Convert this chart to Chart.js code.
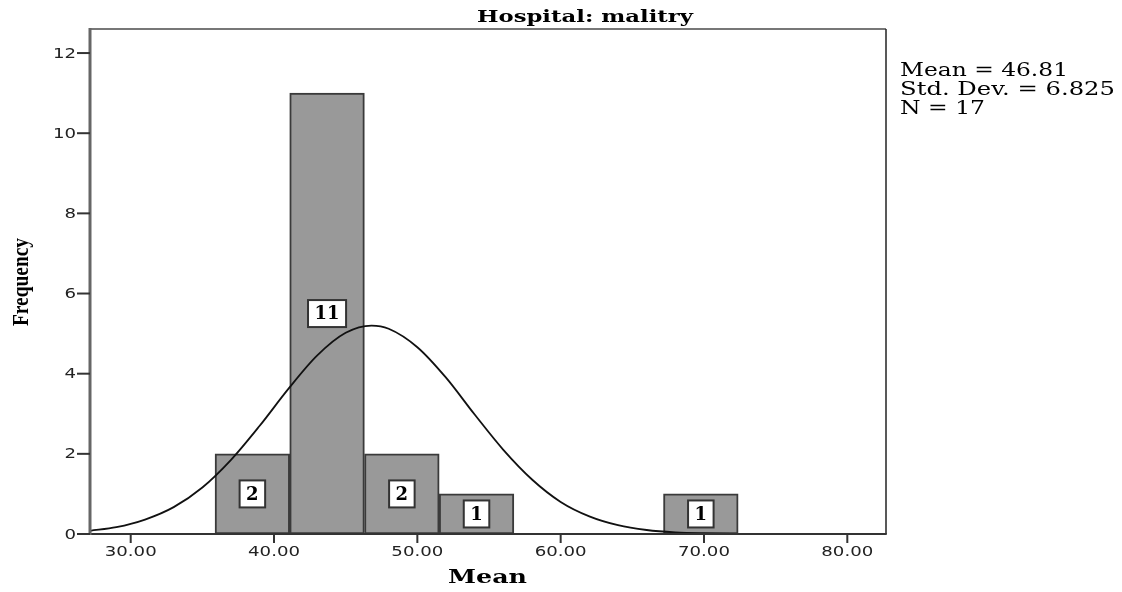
<!DOCTYPE html>
<html>
<head>
<meta charset="utf-8">
<script src="https://cdn.jsdelivr.net/npm/chart.js@4.4.0/dist/chart.umd.min.js"></script>
<style>
html,body{margin:0;padding:0;background:#fff;}
#wrap{width:1122px;height:592px;position:relative;}
</style>
</head>
<body>
<div id="wrap"><canvas id="c" width="1122" height="592"></canvas></div>
<script>
// ---- data ----
const binCenters = [38.49, 43.70, 48.92, 54.13, 69.78];
const frequencies = [2, 11, 2, 1, 1];
const curveX = [27.16, 29, 31, 33, 35, 37, 39, 41, 43, 45, 46.81, 48, 50, 52, 54, 56, 58, 60, 62, 64, 66, 68, 70, 72, 75, 82.7];
const curveY = [0.08, 0.17, 0.36, 0.67, 1.16, 1.85, 2.70, 3.62, 4.45, 5.02, 5.20, 5.12, 4.66, 3.90, 2.98, 2.10, 1.36, 0.80, 0.44, 0.22, 0.10, 0.04, 0.015, 0.005, 0, 0];
const xTicks = [30, 40, 50, 60, 70, 80];
const yTicks = [0, 2, 4, 6, 8, 10, 12];
const xTickLabels = ["30.00", "40.00", "50.00", "60.00", "70.00", "80.00"];
const yTickLabels = ["0", "2", "4", "6", "8", "10", "12"];
const titleText = "Hospital: malitry";
const xTitle = "Mean";
const yTitle = "Frequency";
const statsLines = ["Mean = 46.81", "Std. Dev. = 6.825", "N = 17"];

function fitText(ctx, text, x, y, targetW, align) {
  const w = ctx.measureText(text).width;
  const sx = targetW / w;
  ctx.save();
  ctx.translate(x, y);
  ctx.scale(sx, 1);
  ctx.textAlign = align || 'left';
  ctx.fillText(text, 0, 0);
  ctx.restore();
}

const decor = {
  id: 'decor',
  afterDatasetsDraw(chart) {
    const ctx = chart.ctx;
    const meta = chart.getDatasetMeta(0);
    ctx.save();
    ctx.font = 'bold 18px "DejaVu Serif"';
    meta.data.forEach((bar, i) => {
      const t = String(frequencies[i]);
      const cy = (bar.y + bar.base) / 2;
      const tw = ctx.measureText(t).width;
      const bw = tw + 13, bh = 27;
      ctx.fillStyle = '#fff';
      ctx.fillRect(bar.x - bw / 2, cy - bh / 2, bw, bh);
      ctx.strokeStyle = '#333';
      ctx.lineWidth = 2;
      ctx.strokeRect(bar.x - bw / 2, cy - bh / 2, bw, bh);
      ctx.fillStyle = '#000';
      ctx.textAlign = 'center';
      ctx.textBaseline = 'middle';
      ctx.fillText(t, bar.x, cy + 1);
    });
    ctx.restore();
  },
  afterDraw(chart) {
    const ctx = chart.ctx;
    const a = chart.chartArea;
    const xs = chart.scales.x, ys = chart.scales.y;
    ctx.save();
    // frame
    ctx.lineCap = 'butt';
    ctx.strokeStyle = '#777';
    ctx.lineWidth = 2;
    ctx.beginPath(); ctx.moveTo(a.left, a.top); ctx.lineTo(a.right, a.top); ctx.stroke();
    ctx.strokeStyle = '#222';
    ctx.lineWidth = 1.5;
    ctx.beginPath(); ctx.moveTo(a.right, a.top); ctx.lineTo(a.right, a.bottom); ctx.stroke();
    ctx.strokeStyle = '#333';
    ctx.lineWidth = 2;
    ctx.beginPath(); ctx.moveTo(a.left - 12, a.bottom); ctx.lineTo(a.right + 0.75, a.bottom); ctx.stroke();
    ctx.strokeStyle = '#666';
    ctx.lineWidth = 3;
    ctx.beginPath(); ctx.moveTo(a.left, a.top - 1); ctx.lineTo(a.left, a.bottom + 1); ctx.stroke();
    // ticks
    ctx.strokeStyle = '#333';
    ctx.lineWidth = 2;
    yTicks.forEach(v => {
      const y = ys.getPixelForValue(v);
      ctx.beginPath(); ctx.moveTo(a.left - 13, y); ctx.lineTo(a.left, y); ctx.stroke();
    });
    xTicks.forEach(v => {
      const x = xs.getPixelForValue(v);
      ctx.beginPath(); ctx.moveTo(x, a.bottom); ctx.lineTo(x, a.bottom + 9); ctx.stroke();
    });
    // tick labels
    ctx.fillStyle = '#222';
    ctx.font = '13.5px "DejaVu Sans"';
    ctx.textBaseline = 'middle';
    const sx = 52 / ctx.measureText("30.00").width;
    xTicks.forEach((v, i) => {
      const x = xs.getPixelForValue(v);
      ctx.save(); ctx.translate(x, a.bottom + 18); ctx.scale(sx, 1);
      ctx.textAlign = 'center'; ctx.fillText(xTickLabels[i], 0, 0); ctx.restore();
    });
    yTicks.forEach((v, i) => {
      const y = ys.getPixelForValue(v);
      ctx.save(); ctx.translate(a.left - 14, y + 1); ctx.scale(sx, 1);
      ctx.textAlign = 'right'; ctx.fillText(yTickLabels[i], 0, 0); ctx.restore();
    });
    // titles
    ctx.fillStyle = '#000';
    ctx.textBaseline = 'alphabetic';
    ctx.font = 'bold 17px "DejaVu Serif"';
    fitText(ctx, titleText, 585, 22, 216, 'center');
    ctx.font = 'bold 18px "DejaVu Serif"';
    fitText(ctx, xTitle, 487.5, 583, 79, 'center');
    ctx.save();
    ctx.translate(28, 282);
    ctx.rotate(-Math.PI / 2);
    ctx.font = 'bold 23px "Liberation Serif"';
    fitText(ctx, yTitle, 0, 0, 88, 'center');
    ctx.restore();
    // stats
    ctx.font = '18px "DejaVu Serif"';
    const widths = [168, 215, 85];
    const bases = [76, 95, 114];
    statsLines.forEach((s, i) => fitText(ctx, s, 900, bases[i], widths[i], 'left'));
    ctx.restore();
  }
};

new Chart(document.getElementById('c'), {
  type: 'bar',
  data: {
    datasets: [
      {
        type: 'bar',
        data: binCenters.map((x, i) => ({ x: x, y: frequencies[i] })),
        backgroundColor: '#999999',
        borderColor: '#3a3a3a',
        borderWidth: 2,
        borderSkipped: false,
        barPercentage: 1,
        categoryPercentage: 1,
        order: 2
      },
      {
        type: 'line',
        data: curveX.map((x, i) => ({ x: x, y: curveY[i] })),
        borderColor: '#111',
        borderWidth: 1.8,
        pointRadius: 0,
        fill: false,
        cubicInterpolationMode: 'monotone',
        order: 1
      }
    ]
  },
  options: {
    responsive: false,
    animation: false,
    devicePixelRatio: 1,
    layout: { padding: { left: 90, top: 29, right: 236, bottom: 58 } },
    plugins: { legend: { display: false }, tooltip: { enabled: false }, title: { display: false } },
    scales: {
      x: {
        type: 'linear', min: 27.16, max: 82.7, offset: false, display: false,
        afterBuildTicks: s => { s.ticks = xTicks.map(v => ({ value: v })); }
      },
      y: {
        type: 'linear', min: 0, max: 12.6, display: false,
        afterBuildTicks: s => { s.ticks = yTicks.map(v => ({ value: v })); }
      }
    }
  },
  plugins: [decor]
});
</script>
</body>
</html>
